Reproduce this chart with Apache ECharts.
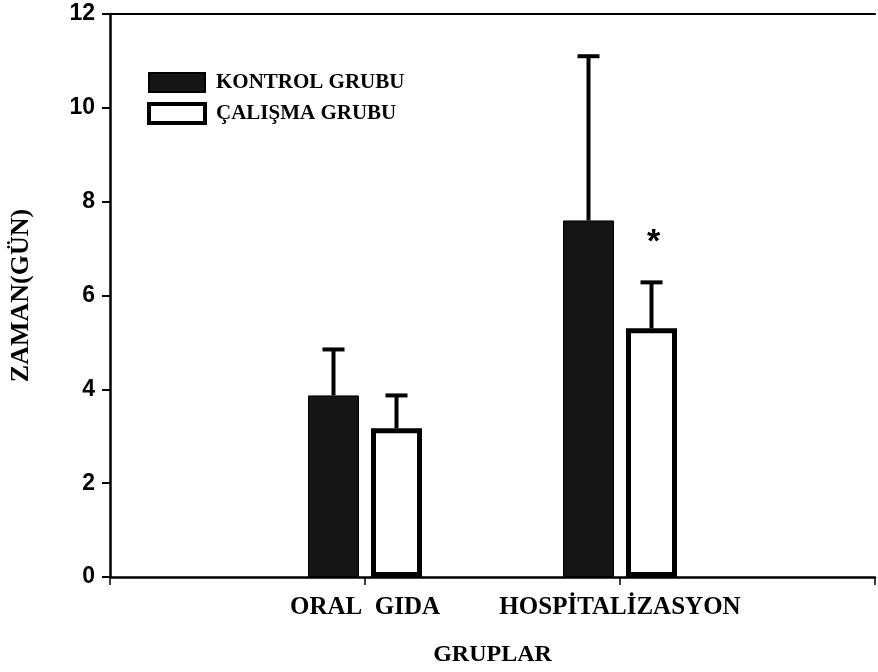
<!doctype html>
<html lang="tr">
<head>
<meta charset="UTF-8">
<title>ZAMAN(GÜN) - GRUPLAR</title>
<style>
  html, body { margin: 0; padding: 0; background: #fff; }
  #main { width: 878px; height: 672px; }
</style>
</head>
<body>
<div id="main"></div>
<script src="https://cdn.jsdelivr.net/npm/echarts@6/dist/echarts.min.js"></script>
<script type="text/javascript">
// veriler
var categories = ['ORAL  GIDA', 'HOSPİTALİZASYON'];
var seriesNames = ['KONTROL GRUBU', 'ÇALIŞMA GRUBU'];
var kontrolMean = [3.87, 7.6];
var kontrolUpper = [4.85, 11.1];
var calismaMean = [3.17, 5.3];
var calismaUpper = [3.87, 6.28];
var calismaMark = ['', '*'];
var yTicks = [0, 2, 4, 6, 8, 10, 12];

var serifBold = { fontFamily: 'Liberation Serif', fontWeight: 'bold', color: '#000' };
var BAR_W = 51, BAR_GAP = 12;

// kategori ekseninde başa ve sona boş yer bırakılır
var axisCats = [''].concat(categories, ['']);
function pad(arr) { return [null].concat(arr, [null]); }
function errData(mean, upper) {
    return mean.map(function (m, i) { return [i + 1, m, upper[i]]; });
}

function errorBar(offset, marks) {
    return function (params, api) {
        var p0 = api.coord([api.value(0), api.value(1)]);
        var p1 = api.coord([api.value(0), api.value(2)]);
        var x = p0[0] + offset;
        var st = { stroke: '#000', lineWidth: 4 };
        var children = [
            { type: 'line', shape: { x1: x, y1: p0[1], x2: x, y2: p1[1] }, style: st },
            { type: 'line', shape: { x1: x - 11, y1: p1[1], x2: x + 11, y2: p1[1] }, style: st }
        ];
        var m = marks && marks[params.dataIndex];
        if (m) {
            children.push({
                type: 'text',
                style: { text: m, x: x + 2, y: p1[1] - 40, align: 'center', verticalAlign: 'middle',
                    font: 'bold 34px "Liberation Sans"', fill: '#000' }
            });
        }
        return { type: 'group', children: children };
    };
}

var chart = echarts.init(document.getElementById('main'));

var option = {
    backgroundColor: '#fff',
    animation: false,
    grid: { left: 108, right: 0, top: 14, bottom: 94 },
    legend: {
        orient: 'vertical',
        left: 147, top: 72, padding: 0,
        itemWidth: 56, itemHeight: 19, itemGap: 9,
        icon: 'rect',
        textStyle: Object.assign({ fontSize: 21, lineHeight: 19, padding: [0, 0, 0, 6] }, serifBold),
        data: [
            { name: seriesNames[0], itemStyle: { color: '#151515', borderColor: '#000', borderWidth: 2 } },
            { name: seriesNames[1], itemStyle: { color: '#fff', borderColor: '#000', borderWidth: 4 } }
        ]
    },
    xAxis: [{
        type: 'category',
        data: axisCats,
        boundaryGap: false,
        name: 'GRUPLAR',
        nameLocation: 'middle',
        nameGap: 66,
        nameTextStyle: Object.assign({ fontSize: 24 }, serifBold),
        axisLine: { lineStyle: { color: '#000', width: 2.5 } },
        axisTick: { show: true, length: 8, inside: false, lineStyle: { color: '#000', width: 1.5 } },
        axisLabel: Object.assign({ interval: 0, fontSize: 25, margin: 18 }, serifBold),
        splitLine: { show: false }
    }, {
        type: 'category',
        data: axisCats,
        boundaryGap: false,
        position: 'top',
        axisLine: { lineStyle: { color: '#000', width: 2 } },
        axisTick: { show: false },
        axisLabel: { show: false },
        splitLine: { show: false }
    }],
    yAxis: {
        type: 'value',
        min: 0, max: 12, interval: 2,
        name: 'ZAMAN(GÜN)',
        nameLocation: 'middle',
        nameGap: 76,
        nameTextStyle: Object.assign({ fontSize: 26 }, serifBold),
        axisLine: { show: true, lineStyle: { color: '#000', width: 2.5 } },
        axisTick: { show: true, length: 8, lineStyle: { color: '#000', width: 2 } },
        axisLabel: {
            fontFamily: 'Liberation Sans', fontWeight: 'bold', fontSize: 23, color: '#000', margin: 15,
            formatter: function (v) { return yTicks.indexOf(v) >= 0 ? String(v) : ''; }
        },
        splitLine: { show: false }
    },
    series: [
        {
            name: seriesNames[0], type: 'bar', data: pad(kontrolMean),
            barWidth: BAR_W, barGap: (BAR_GAP / BAR_W * 100) + '%',
            itemStyle: { color: '#151515', borderColor: '#000', borderWidth: 1 },
            z: 3
        },
        {
            name: seriesNames[1], type: 'bar', data: pad(calismaMean),
            barWidth: BAR_W,
            itemStyle: { color: '#fff', borderColor: '#000', borderWidth: 5 },
            z: 3
        },
        {
            type: 'custom', data: errData(kontrolMean, kontrolUpper),
            renderItem: errorBar(-(BAR_W + BAR_GAP) / 2), z: 2, silent: true
        },
        {
            type: 'custom', data: errData(calismaMean, calismaUpper),
            renderItem: errorBar((BAR_W + BAR_GAP) / 2, calismaMark), z: 2, silent: true
        }
    ]
};

chart.setOption(option);
</script>
</body>
</html>
